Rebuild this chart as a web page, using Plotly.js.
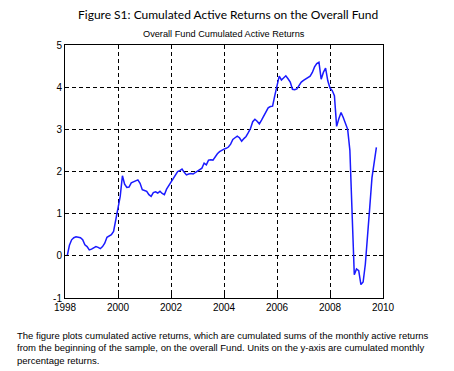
<!DOCTYPE html>
<html>
<head>
<meta charset="utf-8">
<script src="https://cdn.plot.ly/plotly-3.0.1.min.js"></script>
<style>
html,body{margin:0;padding:0;background:#fff;}
#chart{width:454px;height:371px;}
</style>
</head>
<body>
<div id="chart"></div>
<script>
// Monthly cumulated active returns (%), Jan..Dec of each year
const startYear = 1998;
const v1998 = [0.00, 0.25, 0.38, 0.43, 0.45, 0.44, 0.43, 0.38, 0.26, 0.22, 0.14, 0.16];
const v1999 = [0.19, 0.22, 0.20, 0.17, 0.22, 0.30, 0.44, 0.48, 0.50, 0.58, 0.85, 1.20];
const v2000 = [1.41, 1.90, 1.70, 1.62, 1.63, 1.73, 1.76, 1.79, 1.80, 1.72, 1.57, 1.55];
const v2001 = [1.53, 1.45, 1.41, 1.50, 1.52, 1.49, 1.53, 1.48, 1.45, 1.58, 1.66, 1.74];
const v2002 = [1.82, 1.92, 2.00, 2.02, 2.06, 1.98, 1.92, 1.94, 1.95, 1.94, 1.97, 2.02];
const v2003 = [2.05, 2.08, 2.20, 2.16, 2.27, 2.28, 2.27, 2.36, 2.42, 2.47, 2.51, 2.53];
const v2004 = [2.55, 2.58, 2.65, 2.76, 2.80, 2.84, 2.80, 2.72, 2.78, 2.83, 2.92, 3.02];
const v2005 = [3.18, 3.24, 3.19, 3.13, 3.22, 3.33, 3.44, 3.51, 3.54, 3.55, 3.80, 4.05];
const v2006 = [4.26, 4.17, 4.22, 4.27, 4.20, 4.12, 3.95, 3.94, 3.96, 4.05, 4.12, 4.16];
const v2007 = [4.20, 4.23, 4.26, 4.35, 4.48, 4.56, 4.59, 4.19, 4.35, 4.45, 4.15, 3.98];
const v2008 = [3.92, 3.80, 3.07, 3.25, 3.40, 3.28, 3.15, 3.00, 2.50, 0.95, -0.45, -0.31];
const v2009 = [-0.35, -0.68, -0.62, -0.20, 0.40, 1.15, 1.85, 2.22, 2.57];

const yearly = [v1998, v1999, v2000, v2001, v2002, v2003, v2004, v2005, v2006, v2007, v2008, v2009];
const xTicks = [1998, 2000, 2002, 2004, 2006, 2008, 2010];
const yTicks = [-1, 0, 1, 2, 3, 4, 5];

const figTitle = "Figure S1: Cumulated Active Returns on the Overall Fund";
const axTitle = "Overall Fund Cumulated Active Returns";
const caption = "The figure plots cumulated active returns, which are cumulated sums of the monthly active returns<br>from the beginning of the sample, on the overall Fund. Units on the y-axis are cumulated monthly<br>percentage returns.";

const x = [], y = [];
yearly.forEach((arr, i) => {
  arr.forEach((val, m) => {
    x.push(startYear + i + (m + 1) / 12);
    y.push(val);
  });
});

const axisCommon = {
  showline: true, linecolor: '#000', linewidth: 1, mirror: 'ticks',
  ticks: 'inside', ticklen: 4, tickcolor: '#000',
  showgrid: true, gridcolor: '#000', griddash: '4px,3px', gridwidth: 1,
  zeroline: false,
  tickfont: {family: 'Liberation Sans, Arial, sans-serif', size: 10, color: '#000'}
};

const layout = {
  width: 454, height: 371,
  paper_bgcolor: '#fff', plot_bgcolor: '#fff',
  margin: {l: 65, r: 71, t: 45, b: 73},
  showlegend: false,
  xaxis: Object.assign({}, axisCommon, {
    range: [1998, 2010], tickvals: xTicks, ticktext: xTicks.map(String),
    title: {text: ''}
  }),
  yaxis: Object.assign({}, axisCommon, {
    range: [-1, 5], tickvals: yTicks, ticktext: yTicks.map(String)
  }),
  annotations: [
    {text: figTitle, xref: 'paper', yref: 'paper', x: 233/454, y: 1, xanchor: 'center', yanchor: 'middle',
     showarrow: false, font: {family: 'Lato, Noto Sans, sans-serif', size: 12, color: '#000'}},
    {text: axTitle, xref: 'paper', yref: 'paper', x: 0.5, y: 1, xanchor: 'center', yanchor: 'middle',
     showarrow: false, font: {family: 'Liberation Sans, Arial, sans-serif', size: 9.2, color: '#000'}},
    {text: caption, xref: 'paper', yref: 'paper', x: 0, y: 0, xanchor: 'left', yanchor: 'top', align: 'left',
     showarrow: false, font: {family: 'Liberation Sans, Arial, sans-serif', size: 9.5, color: '#000'}}
  ]
};

const trace = {
  x: x, y: y, type: 'scatter', mode: 'lines',
  line: {color: '#1a1aff', width: 1.5, shape: 'linear'},
  hoverinfo: 'skip'
};

Plotly.newPlot('chart', [trace], layout, {staticPlot: true, displayModeBar: false}).then(() => {
  const gd = document.getElementById('chart');
  const fs = gd._fullLayout;
  const ph = fs._size.h, pt = fs._size.t;
  const pxToY = py => 1 - (py - pt) / ph;
  Plotly.relayout('chart', {
    'annotations[0].y': pxToY(14),
    'annotations[1].y': pxToY(34),
    'annotations[2].y': pxToY(328),
    'annotations[2].x': (15 - fs._size.l) / fs._size.w
  });
});
</script>
</body>
</html>
